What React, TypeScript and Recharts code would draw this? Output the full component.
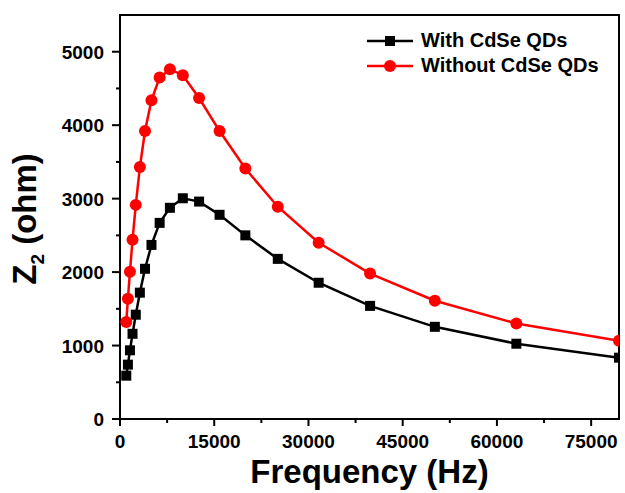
import { LineChart, Line, XAxis, YAxis, ReferenceArea, Legend } from 'recharts';

// frequencies in Hz, log spaced
const freqs = [1000, 1259, 1585, 1995, 2512, 3162, 3981, 5012, 6310, 7943, 10000, 12589, 15849, 19953, 25119, 31623, 39811, 50119, 63096, 79433];
const withQDs = [590, 740, 935, 1160, 1420, 1720, 2045, 2370, 2670, 2875, 3005, 2960, 2780, 2500, 2180, 1855, 1540, 1255, 1025, 835];
const withoutQDs = [1320, 1638, 2005, 2440, 2915, 3430, 3920, 4340, 4650, 4760, 4680, 4370, 3920, 3410, 2890, 2400, 1980, 1610, 1300, 1065];

const xTicks = [0, 7500, 15000, 22500, 30000, 37500, 45000, 52500, 60000, 67500, 75000];
const yTicks = [0, 500, 1000, 1500, 2000, 2500, 3000, 3500, 4000, 4500, 5000];

const data = freqs.map((f, i) => ({ f, with: withQDs[i], without: withoutQDs[i] }));

const FONT = '"Liberation Sans", Arial, sans-serif';

const XTick = (props: any) => {
  const { x, y, payload } = props;
  const major = payload.value % 15000 === 0;
  return (
    <g>
      <line x1={x} x2={x} y1={y} y2={y + (major ? 7 : 4)} stroke="#000" strokeWidth={2} />
      {major && (
        <text x={x} y={y + 29} textAnchor="middle" fontFamily={FONT} fontWeight="bold" fontSize={19} fill="#000">
          {payload.value}
        </text>
      )}
    </g>
  );
};

const YTick = (props: any) => {
  const { x, y, payload } = props;
  const major = payload.value % 1000 === 0;
  return (
    <g>
      <line x1={x - (major ? 8 : 4)} x2={x} y1={y} y2={y} stroke="#000" strokeWidth={2} />
      {major && (
        <text x={x - 16} y={y + 7} textAnchor="end" fontFamily={FONT} fontWeight="bold" fontSize={19} fill="#000">
          {payload.value}
        </text>
      )}
    </g>
  );
};

const Square = (props: any) => {
  const { cx, cy, index } = props;
  return <rect key={`sq-${index}`} x={cx - 5} y={cy - 5} width={10} height={10} fill="#000" />;
};

const Circle = (props: any) => {
  const { cx, cy, index } = props;
  return <circle key={`ci-${index}`} cx={cx} cy={cy} r={6} fill="#ff0000" />;
};

const LegendBox = () => (
  <div style={{ fontFamily: FONT, fontWeight: 'bold', fontSize: 20, color: '#000', lineHeight: '25px' }}>
    <div style={{ display: 'flex', alignItems: 'center' }}>
      <svg width={54} height={25}>
        <line x1={0} x2={46} y1={13} y2={13} stroke="#000" strokeWidth={2.5} />
        <rect x={18} y={8} width={10} height={10} fill="#000" />
      </svg>
      <span>With CdSe QDs</span>
    </div>
    <div style={{ display: 'flex', alignItems: 'center' }}>
      <svg width={54} height={25}>
        <line x1={0} x2={46} y1={13} y2={13} stroke="#ff0000" strokeWidth={2.5} />
        <circle cx={23} cy={13} r={6} fill="#ff0000" />
      </svg>
      <span>Without CdSe QDs</span>
    </div>
  </div>
);

export default function App() {
  return (
    <div style={{ position: 'absolute', left: 0, top: 0, background: '#fff' }}>
      <LineChart width={625} height={493} data={data} margin={{ top: 15, right: 6, bottom: 0, left: 0 }}>
        <XAxis
          dataKey="f"
          type="number"
          domain={[0, 79433]}
          ticks={xTicks}
          interval={0}
          tickSize={0}
          tickMargin={0}
          tick={<XTick />}
          tickLine={false}
          axisLine={{ stroke: '#000', strokeWidth: 2 }}
          height={74}
          allowDataOverflow
          label={{
            value: 'Frequency (Hz)',
            position: 'insideBottom',
            offset: 10,
            style: { fontFamily: FONT, fontWeight: 'bold', fontSize: 33, fill: '#000' },
          }}
        />
        <YAxis
          type="number"
          domain={[0, 5500]}
          ticks={yTicks}
          interval={0}
          tickSize={0}
          tickMargin={0}
          tick={<YTick />}
          tickLine={false}
          axisLine={{ stroke: '#000', strokeWidth: 2 }}
          width={120}
          label={() => (
            <text
              transform="translate(36,219) rotate(-90)"
              textAnchor="middle"
              fontFamily={FONT}
              fontWeight="bold"
              fontSize={33}
              fill="#000"
            >
              Z<tspan fontSize={19} dy={8}>2</tspan>
              <tspan dy={-8}> (ohm)</tspan>
            </text>
          )}
        />
        <ReferenceArea x1={0} x2={79433} y1={0} y2={5500} fill="none" stroke="#000" strokeWidth={2} ifOverflow="visible" />
        <Legend
          layout="vertical"
          align="center"
          verticalAlign="middle"
          content={<LegendBox />}
          wrapperStyle={{ left: 367, top: 28, width: 250 }}
        />
        <Line
          dataKey="with"
          stroke="#000"
          strokeWidth={2.5}
          dot={<Square />}
          activeDot={false}
          isAnimationActive={false}
        />
        <Line
          dataKey="without"
          stroke="#ff0000"
          strokeWidth={2.5}
          dot={<Circle />}
          activeDot={false}
          isAnimationActive={false}
        />
      </LineChart>
    </div>
  );
}
